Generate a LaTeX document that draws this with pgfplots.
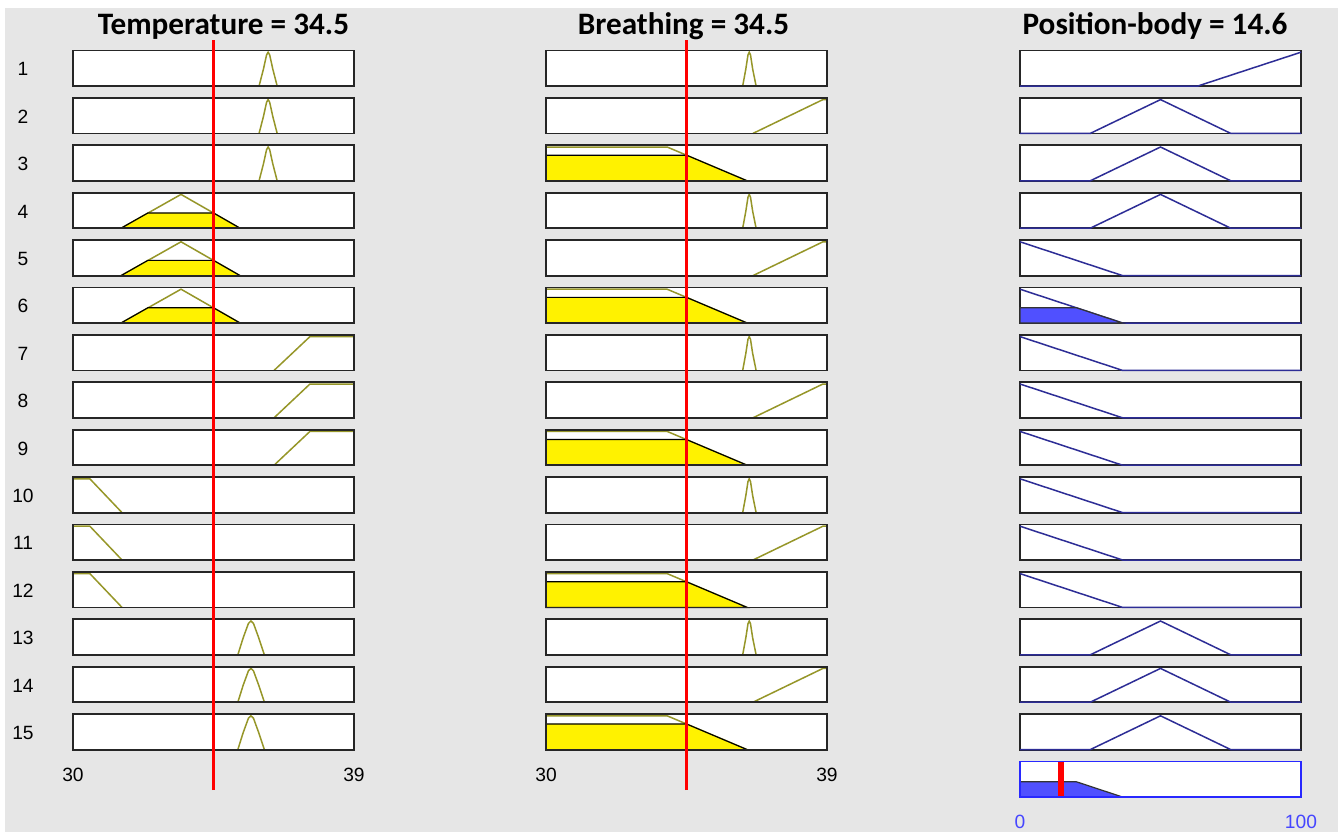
\documentclass[border=0pt]{standalone}
\usepackage{fontspec}
\setmainfont{Liberation Sans}
\newfontfamily\titlefont{Carlito}
\usepackage{pgfplots}
\usepackage{pgfplotstable}
\pgfplotsset{compat=1.18}

\definecolor{bg}{RGB}{230,230,230}
\definecolor{mfolive}{RGB}{150,150,40}
\definecolor{mfnavy}{RGB}{45,45,150}
\definecolor{outfill}{RGB}{80,80,255}
\definecolor{tickblue}{RGB}{70,70,255}
\definecolor{boxblue}{RGB}{40,40,255}
\definecolor{vline}{RGB}{255,0,0}

% ---------- Temperature membership functions ----------
\pgfplotstableread{
x y
35.96 0
36.10 0.5
36.20 0.92
36.25 1
36.30 0.92
36.40 0.5
36.54 0
}\TA
\pgfplotstableread{
x y
31.54 0
33.46 1
35.35 0
}\TB
\pgfplotstableread{
x y
31.54 0
32.40 0.45
34.50 0.45
35.35 0
}\TBf
\pgfplotstableread{
x y
36.44 0
37.59 1
39 1
}\TC
\pgfplotstableread{
x y
30 1
30.54 1
31.57 0
}\TD
\pgfplotstableread{
x y
35.28 0
35.45 0.5
35.62 0.93
35.70 1
35.78 0.93
35.95 0.5
36.13 0
}\TE
% ---------- Breathing membership functions ----------
\pgfplotstableread{
x y
36.30 0
36.40 0.5
36.47 0.92
36.51 1
36.55 0.92
36.62 0.5
36.73 0
}\BA
\pgfplotstableread{
x y
36.63 0
38.87 1
39 1
}\BB
\pgfplotstableread{
x y
30 1
33.88 1
36.44 0
}\BC
\pgfplotstableread{
x y
30 0
30 0.758
34.50 0.758
36.44 0
}\BCf
% ---------- Position-body membership functions ----------
\pgfplotstableread{
x y
0 0
63.3 0
100 1
}\PA
\pgfplotstableread{
x y
0 0
25 0
50 1
75 0
100 0
}\PB
\pgfplotstableread{
x y
0 1
36.5 0
100 0
}\PC
\pgfplotstableread{
x y
0 0
0 0.45
20.1 0.45
36.5 0
}\PCf

\pgfplotsset{
 mfbase/.style={scale only axis, width=140.5pt, height=17.75pt,
   ymin=0, ymax=1.05, xtick=\empty, ytick=\empty, major tick length=0pt,
   axis background/.style={fill=white},
   axis line style={draw=black!85, line width=0.9pt},
   clip=false, anchor=north west,
   xticklabel style={anchor=center, yshift=-12.5pt, font=\fontsize{9.6}{11}\selectfont}},
 inbox/.style={mfbase, axis on top, xmin=30, xmax=39},
 outbox/.style={mfbase, xmin=0, xmax=100},
 mfin/.style={draw=mfolive, line width=0.75pt, mark=none},
 mfout/.style={draw=mfnavy, line width=0.75pt, mark=none},
 fillin/.style={fill=yellow, draw=black, line width=0.6pt, mark=none},
 fillout/.style={fill=outfill, draw=black!80, line width=0.6pt, mark=none},
 vlineax/.style={hide axis, scale only axis, width=140.5pt, height=375pt, anchor=north west,
   xmin=30, xmax=39, ymin=0, ymax=1, clip=false},
 vl/.style={color=vline, draw=vline, line width=1.05pt, mark=none},
}

\newcommand{\rowtop}[1]{-(50.5+(#1-1)*47.4)*0.5pt}
\newcommand{\Tbox}[3][]{\begin{axis}[inbox, at={(36.5pt,{\rowtop{#2}})}, #1] #3 \end{axis}}
\newcommand{\Bbox}[3][]{\begin{axis}[inbox, at={(273pt,{\rowtop{#2}})}, #1] #3 \end{axis}}
\newcommand{\Pbox}[3][]{\begin{axis}[outbox, at={(510pt,{\rowtop{#2}})}, #1] #3 \end{axis}}

\begin{document}
\begin{tikzpicture}
\fill[white, use as bounding box] (0,0) rectangle (669pt,-416pt);
\fill[bg] (2.5pt,-4pt) rectangle (669pt,-416pt);

% titles
\node[anchor=base, font=\titlefont\bfseries\fontsize{15.6}{18}\selectfont] at (111.75pt,-17pt) {Temperature = 34.5};
\node[anchor=base, font=\titlefont\bfseries\fontsize{15.6}{18}\selectfont] at (341.75pt,-17pt) {Breathing = 34.5};
\node[anchor=base, font=\titlefont\bfseries\fontsize{15.6}{18}\selectfont] at (577.5pt,-17pt) {Position-body = 14.6};

% row numbers
\foreach \i in {1,...,15}{
  \node[anchor=center, font=\fontsize{9.6}{11}\selectfont] at (11.5pt,{-(50.5+(\i-1)*47.4+18.75)*0.5pt}) {\i};
}

% ---------- Temperature column ----------
\Tbox{1}{\addplot[mfin] table {\TA};}
\Tbox{2}{\addplot[mfin] table {\TA};}
\Tbox{3}{\addplot[mfin] table {\TA};}
\Tbox{4}{\addplot[mfin] table {\TB}; \addplot[fillin] table {\TBf} -- cycle;}
\Tbox{5}{\addplot[mfin] table {\TB}; \addplot[fillin] table {\TBf} -- cycle;}
\Tbox{6}{\addplot[mfin] table {\TB}; \addplot[fillin] table {\TBf} -- cycle;}
\Tbox{7}{\addplot[mfin] table {\TC};}
\Tbox{8}{\addplot[mfin] table {\TC};}
\Tbox{9}{\addplot[mfin] table {\TC};}
\Tbox{10}{\addplot[mfin] table {\TD};}
\Tbox{11}{\addplot[mfin] table {\TD};}
\Tbox{12}{\addplot[mfin] table {\TD};}
\Tbox{13}{\addplot[mfin] table {\TE};}
\Tbox{14}{\addplot[mfin] table {\TE};}
\Tbox[xtick={30,39}, xticklabels={30,39}]{15}{\addplot[mfin] table {\TE};}

% ---------- Breathing column ----------
\Bbox{1}{\addplot[mfin] table {\BA};}
\Bbox{2}{\addplot[mfin] table {\BB};}
\Bbox{3}{\addplot[mfin] table {\BC}; \addplot[fillin] table {\BCf} -- cycle;}
\Bbox{4}{\addplot[mfin] table {\BA};}
\Bbox{5}{\addplot[mfin] table {\BB};}
\Bbox{6}{\addplot[mfin] table {\BC}; \addplot[fillin] table {\BCf} -- cycle;}
\Bbox{7}{\addplot[mfin] table {\BA};}
\Bbox{8}{\addplot[mfin] table {\BB};}
\Bbox{9}{\addplot[mfin] table {\BC}; \addplot[fillin] table {\BCf} -- cycle;}
\Bbox{10}{\addplot[mfin] table {\BA};}
\Bbox{11}{\addplot[mfin] table {\BB};}
\Bbox{12}{\addplot[mfin] table {\BC}; \addplot[fillin] table {\BCf} -- cycle;}
\Bbox{13}{\addplot[mfin] table {\BA};}
\Bbox{14}{\addplot[mfin] table {\BB};}
\Bbox[xtick={30,39}, xticklabels={30,39}]{15}{\addplot[mfin] table {\BC}; \addplot[fillin] table {\BCf} -- cycle;}

% ---------- Position-body column ----------
\Pbox{1}{\addplot[mfout] table {\PA};}
\Pbox{2}{\addplot[mfout] table {\PB};}
\Pbox{3}{\addplot[mfout] table {\PB};}
\Pbox{4}{\addplot[mfout] table {\PB};}
\Pbox{5}{\addplot[mfout] table {\PC};}
\Pbox{6}{\addplot[mfout] table {\PC}; \addplot[fillout] table {\PCf} -- cycle;}
\Pbox{7}{\addplot[mfout] table {\PC};}
\Pbox{8}{\addplot[mfout] table {\PC};}
\Pbox{9}{\addplot[mfout] table {\PC};}
\Pbox{10}{\addplot[mfout] table {\PC};}
\Pbox{11}{\addplot[mfout] table {\PC};}
\Pbox{12}{\addplot[mfout] table {\PC};}
\Pbox{13}{\addplot[mfout] table {\PB};}
\Pbox{14}{\addplot[mfout] table {\PB};}
\Pbox{15}{\addplot[mfout] table {\PB};}
% aggregated output
\Pbox[axis line style={draw=boxblue, line width=0.6pt}, axis on top,
      xtick={0,100}, xticklabels={\textcolor{tickblue}{0},\textcolor{tickblue}{100}}]{16}{
  \addplot[fillout] table {\PCf} -- cycle;
  \addplot[color=vline, line width=2.6pt, mark=none] coordinates {(14.6,0) (14.6,1.05)};
}

% ---------- input value lines ----------
\begin{axis}[vlineax, at={(36.5pt,-20pt)}]
  \addplot[vl] coordinates {(34.5,0) (34.5,1)};
\end{axis}
\begin{axis}[vlineax, at={(273pt,-20pt)}]
  \addplot[vl] coordinates {(34.5,0) (34.5,1)};
\end{axis}
\end{tikzpicture}
\end{document}
